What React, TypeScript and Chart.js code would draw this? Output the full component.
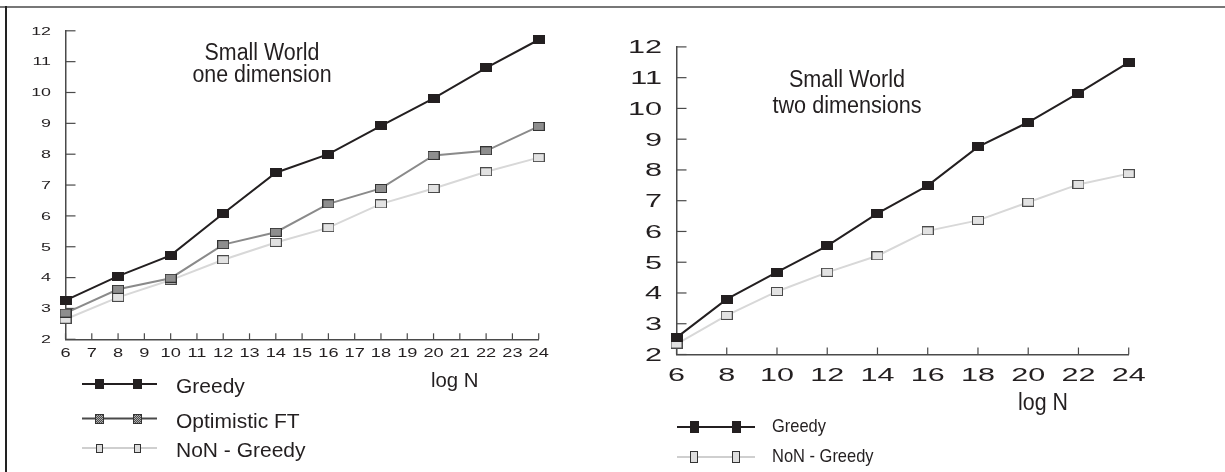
import React, { useEffect, useRef } from "react";
import { Chart, registerables } from "chart.js";

Chart.register(...registerables);

// ---------- data ----------
const LOG_N_1D = [6, 8, 10, 12, 14, 16, 18, 20, 22, 24];
const GREEDY_1D = [3.26, 4.05, 4.72, 6.08, 7.4, 8.0, 8.92, 9.81, 10.8, 11.71];
const OPT_FT_1D = [2.85, 3.62, 3.98, 5.07, 5.47, 6.39, 6.89, 7.96, 8.11, 8.9];
const NON_GREEDY_1D = [2.65, 3.36, 3.92, 4.58, 5.14, 5.62, 6.39, 6.89, 7.43, 7.89];

const LOG_N_2D = [6, 8, 10, 12, 14, 16, 18, 20, 22, 24];
const GREEDY_2D = [2.55, 3.8, 4.68, 5.53, 6.59, 7.49, 8.75, 9.55, 10.5, 11.5];
const NON_GREEDY_2D = [2.34, 3.27, 4.05, 4.67, 5.21, 6.02, 6.36, 6.95, 7.53, 7.88];

const LABELS_1D = ["Greedy", "Optimistic FT", "NoN - Greedy"];
const LABELS_2D = ["Greedy", "NoN - Greedy"];
const TITLE_1D = ["Small World", "one dimension"];
const TITLE_2D = ["Small World", "two dimensions"];
const X_TITLE = "log N";

const FONT = '"Liberation Sans", Arial, Helvetica, sans-serif';
const INK = "#231f20";

// ---------- marker images ----------
function makeMarker(w: number, h: number, fill: string, stroke: string, checker?: [string, string]) {
  const c = document.createElement("canvas");
  c.width = w;
  c.height = h;
  const g = c.getContext("2d")!;
  g.fillStyle = stroke;
  g.fillRect(0, 0, w, h);
  g.fillStyle = fill;
  g.fillRect(1, 1, w - 2, h - 2);
  if (checker) {
    for (let yy = 1; yy < h - 1; yy++) {
      for (let xx = 1; xx < w - 1; xx++) {
        g.fillStyle = (xx + yy) % 2 === 0 ? checker[0] : checker[1];
        g.fillRect(xx, yy, 1, 1);
      }
    }
  }
  return c;
}

function stretchText(ctx: CanvasRenderingContext2D, text: string, x: number, y: number, size: number, sx: number, align: CanvasTextAlign) {
  ctx.save();
  ctx.font = `${size}px ${FONT}`;
  ctx.textAlign = align;
  ctx.textBaseline = "alphabetic";
  ctx.fillStyle = INK;
  ctx.translate(x, y);
  ctx.scale(sx, 1);
  ctx.fillText(text, 0, 0);
  ctx.restore();
}

const decoPlugin = {
  id: "deco",
  beforeDatasetsDraw(chart: any, _args: any, o: any) {
    const ctx: CanvasRenderingContext2D = chart.ctx;
    const xs = chart.scales.x;
    const ys = chart.scales.y;
    const area = chart.chartArea;
    ctx.save();
    ctx.strokeStyle = o.tickColor;
    ctx.lineWidth = 1.2;
    for (const t of ys.ticks) {
      const y = ys.getPixelForValue(t.value);
      ctx.beginPath();
      ctx.moveTo(area.left, y);
      ctx.lineTo(area.left + o.yTickLen, y);
      ctx.stroke();
    }
    for (const t of xs.ticks) {
      const x = xs.getPixelForValue(t.value);
      ctx.beginPath();
      ctx.moveTo(x, area.bottom);
      ctx.lineTo(x, area.bottom - o.xTickLen);
      ctx.stroke();
    }
    ctx.restore();
  },
  afterDraw(chart: any, _args: any, o: any) {
    const ctx: CanvasRenderingContext2D = chart.ctx;
    const xs = chart.scales.x;
    const ys = chart.scales.y;
    // tick labels
    for (const t of ys.ticks) {
      const y = ys.getPixelForValue(t.value);
      stretchText(ctx, String(t.label), o.yLabel.right, y + 0.358 * o.yLabel.size, o.yLabel.size, o.yLabel.sx, "right");
    }
    for (const t of xs.ticks) {
      const x = xs.getPixelForValue(t.value);
      stretchText(ctx, String(t.label), x, o.xLabel.centerY + 0.358 * o.xLabel.size, o.xLabel.size, o.xLabel.sx, "center");
    }
    // titles
    for (const t of o.titles) stretchText(ctx, t.text, t.x, t.y, t.size, t.sx, "center");
    // axis title
    const a = o.axisTitle;
    stretchText(ctx, a.text, a.x, a.y, a.size, a.sx, "left");
    // legend
    const L = o.legend;
    for (const it of L.items) {
      ctx.save();
      ctx.strokeStyle = it.line;
      ctx.lineWidth = 2;
      ctx.beginPath();
      ctx.moveTo(L.x0, it.y);
      ctx.lineTo(L.x1, it.y);
      ctx.stroke();
      const m: HTMLCanvasElement = it.marker;
      for (const mx of L.markers) {
        ctx.drawImage(m, Math.round(mx - m.width / 2), Math.round(it.y - m.height / 2));
      }
      ctx.restore();
      const label = chart.data.datasets[it.ds].label;
      stretchText(ctx, label, L.textX, it.by, L.size, L.sx, "left");
    }
  },
};

function lineDs(label: string, xs: number[], ys: number[], color: string, marker: HTMLCanvasElement) {
  return {
    label,
    data: xs.map((x, i) => ({ x, y: ys[i] })),
    borderColor: color,
    backgroundColor: color,
    borderWidth: 2,
    tension: 0,
    pointStyle: marker,
    pointRadius: 6,
    clip: false as any,
  };
}

function scalesFor(yWidth: number, xHeight: number, xStep: number) {
  return {
    x: {
      type: "linear" as const,
      min: 6,
      max: 24,
      offset: false,
      ticks: { display: false, stepSize: xStep },
      grid: { display: false },
      border: { display: true, color: "#4a4a4a", width: 1.5 },
      afterFit: (s: any) => {
        s.height = xHeight;
      },
    },
    y: {
      type: "linear" as const,
      min: 2,
      max: 12,
      ticks: { display: false, stepSize: 1 },
      grid: { display: false },
      border: { display: true, color: "#4a4a4a", width: 1.5 },
      afterFit: (s: any) => {
        s.width = yWidth;
      },
    },
  };
}

export default function App() {
  const leftRef = useRef<HTMLCanvasElement>(null);
  const rightRef = useRef<HTMLCanvasElement>(null);

  useEffect(() => {
    const mGreedy = makeMarker(12, 9, INK, INK);
    const mOpt = makeMarker(12, 9, "#8e8e8e", "#333333");
    const mNon = makeMarker(12, 9, "#e2e2e2", "#4a4a4a");

    const lgGreedy = makeMarker(9, 10, INK, INK);
    const lgOpt = makeMarker(9, 10, "#777777", "#333333", ["#4a4a4a", "#b0b0b0"]);
    const lgNon = makeMarker(7, 9, "#dddddd", "#333333");
    const lgGreedy2 = makeMarker(9, 12, INK, INK);
    const lgNon2 = makeMarker(8, 12, "#dddddd", "#333333");

    const left = new Chart(leftRef.current!, {
      type: "line",
      data: {
        datasets: [
          lineDs(LABELS_1D[0], LOG_N_1D, GREEDY_1D, INK, mGreedy),
          lineDs(LABELS_1D[1], LOG_N_1D, OPT_FT_1D, "#8a8a8a", mOpt),
          lineDs(LABELS_1D[2], LOG_N_1D, NON_GREEDY_1D, "#d8d8d8", mNon),
        ] as any,
      },
      options: {
        responsive: false,
        animation: false,
        layout: { padding: { left: 0, right: 73.3, top: 30.8, bottom: 0 } },
        scales: scalesFor(65.5, 132.7, 1) as any,
        plugins: {
          legend: { display: false },
          tooltip: { enabled: false },
          deco: {
            tickColor: "#4a4a4a",
            yTickLen: 10,
            xTickLen: 6,
            yLabel: { size: 10.5, sx: 1.7, right: 51 },
            xLabel: { size: 13, sx: 1.4, centerY: 352 },
            titles: [
              { text: TITLE_1D[0], x: 262, y: 60, size: 23, sx: 0.93 },
              { text: TITLE_1D[1], x: 262, y: 81.5, size: 23, sx: 0.93 },
            ],
            axisTitle: { text: X_TITLE, x: 431, y: 387, size: 21, sx: 0.97 },
            legend: {
              x0: 82,
              x1: 157,
              markers: [99, 137],
              textX: 176,
              size: 21,
              sx: 1,
              items: [
                { ds: 0, y: 384, by: 393, line: INK, marker: lgGreedy },
                { ds: 1, y: 418.5, by: 428, line: "#4a4a4a", marker: lgOpt },
                { ds: 2, y: 448, by: 457, line: "#cfcfcf", marker: lgNon },
              ],
            },
          },
        } as any,
      },
      plugins: [decoPlugin],
    });

    const right = new Chart(rightRef.current!, {
      type: "line",
      data: {
        datasets: [
          lineDs(LABELS_2D[0], LOG_N_2D, GREEDY_2D, INK, mGreedy),
          lineDs(LABELS_2D[1], LOG_N_2D, NON_GREEDY_2D, "#d8d8d8", mNon),
        ] as any,
      },
      options: {
        responsive: false,
        animation: false,
        layout: { padding: { left: 0, right: 96.3, top: 46.9, bottom: 0 } },
        scales: scalesFor(64.5, 117.5, 2) as any,
        plugins: {
          legend: { display: false },
          tooltip: { enabled: false },
          deco: {
            tickColor: "#4a4a4a",
            yTickLen: 10,
            xTickLen: 7,
            yLabel: { size: 18, sx: 1.7, right: 50 },
            xLabel: { size: 18.5, sx: 1.65, centerY: 374 },
            titles: [
              { text: TITLE_2D[0], x: 235, y: 87.3, size: 23, sx: 0.94 },
              { text: TITLE_2D[1], x: 235, y: 112.7, size: 23, sx: 0.94 },
            ],
            axisTitle: { text: X_TITLE, x: 406, y: 410, size: 23, sx: 0.93 },
            legend: {
              x0: 65,
              x1: 143,
              markers: [82, 124],
              textX: 160,
              size: 18.5,
              sx: 0.89,
              items: [
                { ds: 0, y: 427, by: 432, line: INK, marker: lgGreedy2 },
                { ds: 1, y: 457, by: 461.5, line: "#cfcfcf", marker: lgNon2 },
              ],
            },
          },
        } as any,
      },
      plugins: [decoPlugin],
    });

    return () => {
      left.destroy();
      right.destroy();
    };
  }, []);

  return (
    <div style={{ position: "fixed", left: 0, top: 0, width: 1225, height: 472, background: "#fff", overflow: "hidden" }}>
      <div style={{ position: "absolute", left: 0, top: 6, width: 1225, height: 2, background: "#777" }} />
      <div style={{ position: "absolute", left: 5, top: 6, width: 2, height: 466, background: "#222" }} />
      <canvas ref={leftRef} width={612} height={472} style={{ position: "absolute", left: 0, top: 0, display: "block" }} />
      <canvas ref={rightRef} width={613} height={472} style={{ position: "absolute", left: 612, top: 0, display: "block" }} />
    </div>
  );
}
